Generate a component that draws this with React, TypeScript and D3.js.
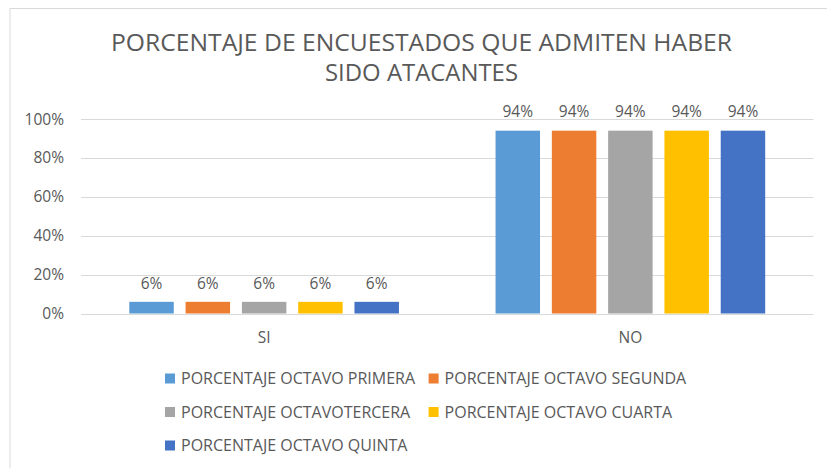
import React from "react";
import * as d3 from "d3";

const categories = ["SI", "NO"];
const seriesNames = [
  "PORCENTAJE OCTAVO PRIMERA",
  "PORCENTAJE OCTAVO SEGUNDA",
  "PORCENTAJE OCTAVOTERCERA",
  "PORCENTAJE OCTAVO CUARTA",
  "PORCENTAJE OCTAVO QUINTA",
];
const primera = [0.06, 0.94];
const segunda = [0.06, 0.94];
const tercera = [0.06, 0.94];
const cuarta = [0.06, 0.94];
const quinta = [0.06, 0.94];
const seriesValues = [primera, segunda, tercera, cuarta, quinta];
const colors = ["#5B9BD5", "#ED7D31", "#A5A5A5", "#FFC000", "#4472C4"];
const yTicks = [0, 0.2, 0.4, 0.6, 0.8, 1.0];
const titleLines = ["PORCENTAJE DE ENCUESTADOS QUE ADMITEN HABER", "SIDO ATACANTES"];

const W = 827;
const H = 468;
const FONT = "'Open Sans', 'Noto Sans', sans-serif";
const TXT = "#595959";

export default function App() {
  const plotL = 81;
  const plotR = 813.5;
  const y = d3.scaleLinear().domain([0, 1]).range([313.5, 119]);
  const x0 = d3.scaleBand<string>().domain(categories).range([plotL, plotR]).paddingInner(0).paddingOuter(0);
  const x1 = d3
    .scaleBand<string>()
    .domain(seriesNames)
    .range([0, x0.bandwidth()])
    .paddingInner(0.21)
    .paddingOuter(0.858);
  const pct = d3.format(".0%");

  const legendCols = [165, 428.6];
  const legendRows = [378.5, 412, 445.5];
  const titleWidths = [621, 193];

  return (
    <div style={{ position: "absolute", left: 0, top: 0 }}>
      <svg width={W} height={H} style={{ display: "block", fontFamily: FONT }}>
        <rect x={0} y={0} width={W} height={H} fill="#fff" />
        <rect x={10} y={8.5} width={W + 20} height={H + 20} fill="#fff" stroke="#d9d9d9" strokeWidth={1} />
        {titleLines.map((t, i) => (
          <text
            key={i}
            x={421.5}
            y={50.7 + i * 30}
            textAnchor="middle"
            fontSize={23}
            fill={TXT}
            textLength={titleWidths[i]}
            lengthAdjust="spacingAndGlyphs"
          >
            {t}
          </text>
        ))}
        {yTicks.map((t) => (
          <g key={t}>
            <line x1={plotL} x2={plotR} y1={Math.round(y(t)) + 0.5} y2={Math.round(y(t)) + 0.5} stroke="#d9d9d9" strokeWidth={1} />
            <text x={64} y={y(t)} dy="0.36em" textAnchor="end" fontSize={15.5} fill={TXT}>
              {pct(t)}
            </text>
          </g>
        ))}
        {categories.map((c, ci) => (
          <g key={c}>
            {seriesNames.map((s, si) => {
              const v = seriesValues[si][ci];
              const bx = (x0(c) as number) + (x1(s) as number);
              return (
                <g key={s}>
                  <rect x={bx} y={y(v)} width={x1.bandwidth()} height={y(0) - y(v)} fill={colors[si]} />
                  <text x={bx + x1.bandwidth() / 2} y={y(v) - 13.3} textAnchor="middle" fontSize={15.5} fill={TXT}>
                    {pct(v)}
                  </text>
                </g>
              );
            })}
            <text x={(x0(c) as number) + x0.bandwidth() / 2} y={343} textAnchor="middle" fontSize={15.5} fill={TXT}>
              {c}
            </text>
          </g>
        ))}
        {seriesNames.map((s, i) => {
          const lx = legendCols[i % 2];
          const ly = legendRows[Math.floor(i / 2)];
          return (
            <g key={s}>
              <rect x={lx} y={ly - 5} width={10} height={10} fill={colors[i]} />
              <text x={lx + 16} y={ly} dy="0.36em" fontSize={16} fill={TXT}>
                {s}
              </text>
            </g>
          );
        })}
      </svg>
    </div>
  );
}
